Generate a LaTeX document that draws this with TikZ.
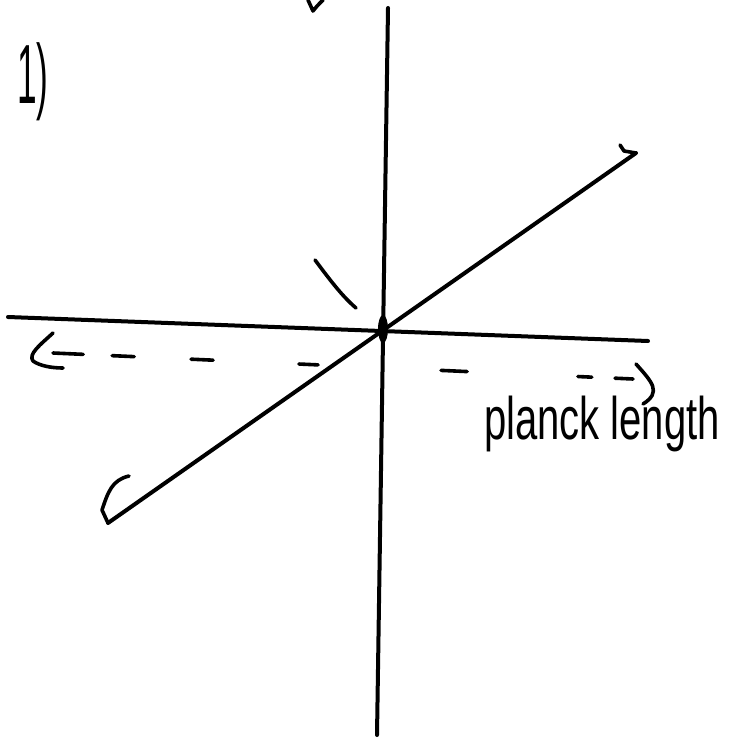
\documentclass[tikz,border=0pt]{standalone}
\usepackage{graphicx}
\usepackage{fontspec}
\setmainfont{Liberation Sans}
\usetikzlibrary{calc}
\begin{document}
\begin{tikzpicture}[x=0.5pt, y=-0.5pt, line cap=round, line join=round,
  axis/.style={line width=2pt},
  pen/.style={line width=1.8pt}]
  \useasboundingbox (0,0) rectangle (731,743);
  % axes
  \coordinate (top) at (388,8);
  \coordinate (bot) at (377,735);
  \coordinate (lft) at (8,317);
  \coordinate (rgt) at (648,341);
  \coordinate (dl) at (108,523);
  \coordinate (ur) at (636,153);
  \coordinate (o) at (383,329);
  \draw[axis] (top) -- (bot);
  \draw[axis] (lft) -- (rgt);
  \draw[axis] (dl) -- (ur);
  \draw[pen] (dl) -- (102,510) .. controls (108,492) and (112,480) .. (129,476);
  \draw[pen] (ur) -- (624,151) -- (620,145);
  \fill (o) ellipse [x radius=5, y radius=14];
  \draw[pen] (315,260) .. controls (330,280) and (342,296) .. (356,308);
  \draw[pen] (308,0) .. controls (310,6) .. (313,11) .. controls (317,6) .. (323,0);
  % dashed span
  \coordinate (da) at (53,353);
  \coordinate (db) at (633,379);
  \foreach \a/\b in {0/0.052, 0.102/0.140, 0.238/0.276, 0.424/0.457, 0.669/0.714, 0.905/0.929, 0.969/1}
    \draw[pen] ($(da)!\a!(db)$) -- ($(da)!\b!(db)$);
  \draw[pen] (53,333) .. controls (40,345) and (28,354) .. (33,361) .. controls (40,366) and (52,368) .. (63,368);
  \draw[pen] (636,364) .. controls (652,382) and (662,392) .. (643,404);
  % labels
  \node[font=\fontsize{42}{42}\selectfont] (num) at (33,82) {\scalebox{0.42}[1]{1)}};
  \node[font=\fontsize{20}{24}\selectfont] (lbl) at (602,424) {\scalebox{1}[1.5]{planck length}};
\end{tikzpicture}
\end{document}
